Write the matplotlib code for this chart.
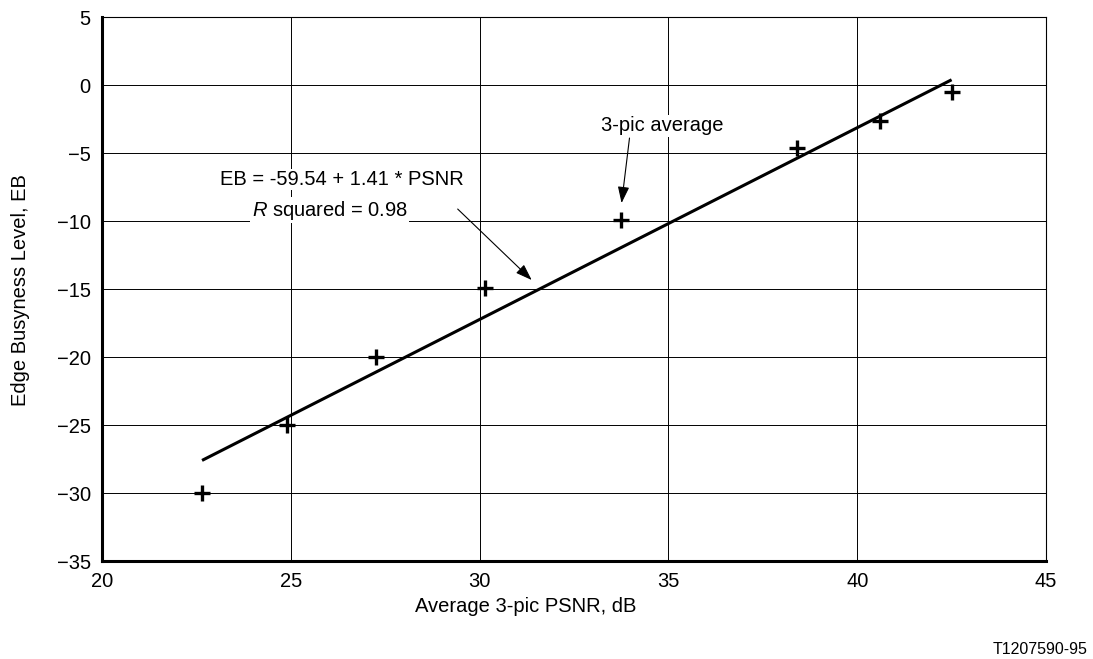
import matplotlib.pyplot as plt
import numpy as np

plt.rcParams['font.family'] = ['Liberation Sans', 'DejaVu Sans']
plt.rcParams['mathtext.fontset'] = 'custom'
plt.rcParams['mathtext.it'] = 'Liberation Sans:italic'
plt.rcParams['mathtext.rm'] = 'Liberation Sans'

# measured points (3-pic averages)
psnr = np.array([22.65, 24.9, 27.25, 30.15, 33.75, 38.4, 40.6, 42.5])
eb = np.array([-30.0, -25.0, -20.0, -14.9, -9.9, -4.6, -2.65, -0.5])

# regression EB = a + b * PSNR
fit_a = -59.54
fit_b = 1.41
r_sq = 0.98

xticks = [20, 25, 30, 35, 40, 45]
yticks = [-35, -30, -25, -20, -15, -10, -5, 0, 5]

fs = 14.5

fig = plt.figure(figsize=(10.93, 6.59), dpi=100)
ax = fig.add_axes([0.0933, 0.1487, 0.8637, 0.8255])

ax.set_xlim(20, 45)
ax.set_ylim(-35, 5)
ax.set_xticks(xticks)
ax.set_yticks(yticks)
ax.grid(True, color='black', lw=0.7)
ax.set_axisbelow(True)
ax.tick_params(length=0, labelsize=fs, pad=8)

for side in ['left', 'bottom']:
    ax.spines[side].set_linewidth(2.2)
for side in ['top', 'right']:
    ax.spines[side].set_linewidth(0.8)

xf = np.array([psnr.min(), psnr.max()])
ax.plot(xf, fit_a + fit_b * xf, color='black', lw=2.2, solid_capstyle='butt', zorder=3)
ax.plot(psnr, eb, ls='none', marker='+', ms=12, mew=2.4, color='black', zorder=4)

bbox = dict(facecolor='white', edgecolor='none', pad=1.0)
ax.text(26.35, -6.95, f'EB = {fit_a} + {fit_b} * PSNR', ha='center', va='center',
        fontsize=fs, bbox=bbox, zorder=5)
ax.text(26.03, -9.2, f'$R$ squared = {r_sq}', ha='center', va='center',
        fontsize=fs, bbox=bbox, zorder=5)
ax.annotate('', xy=(31.38, -14.34), xytext=(29.42, -9.12),
            arrowprops=dict(arrowstyle='-|>,head_length=1.0,head_width=0.35',
                            color='black', lw=0.8, shrinkA=0, shrinkB=0), zorder=5)

ax.text(34.84, -3.0, '3-pic average', ha='center', va='center', fontsize=fs,
        bbox=bbox, zorder=5)
ax.annotate('', xy=(33.76, -8.68), xytext=(33.97, -3.9),
            arrowprops=dict(arrowstyle='-|>,head_length=1.0,head_width=0.35',
                            color='black', lw=0.8, shrinkA=0, shrinkB=0), zorder=5)

fig.text(0.019, 0.5605, 'Edge Busyness Level, EB', rotation=90, ha='center', va='center',
         fontsize=fs)
fig.text(0.481, 0.079, 'Average 3-pic PSNR, dB', ha='center', va='center', fontsize=fs)
fig.text(0.995, 0.014, 'T1207590-95', ha='right', va='center', fontsize=11.5)

fig.savefig('out.png', dpi=100)
